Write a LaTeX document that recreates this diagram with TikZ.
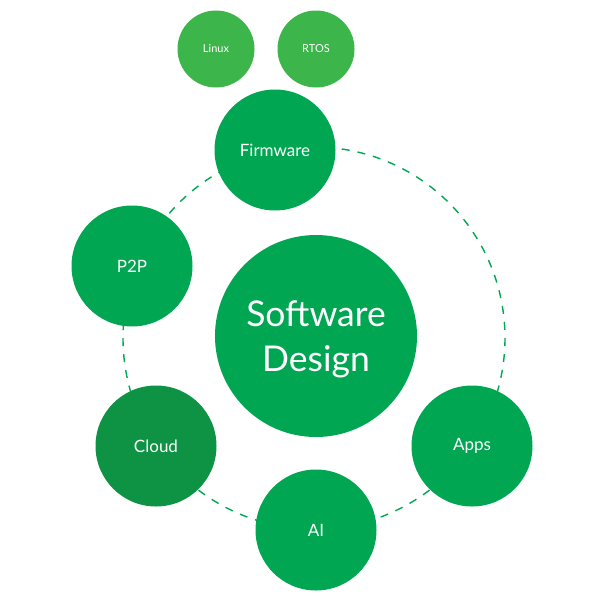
\documentclass[tikz,border=0pt]{standalone}
\usepackage{fontspec}
\setmainfont{Lato}
\definecolor{sdgreen}{RGB}{0,166,81}
\definecolor{sddark}{RGB}{14,147,69}
\definecolor{sdlight}{RGB}{60,181,74}

\begin{document}
\begin{tikzpicture}[x=1pt,y=-1pt]
    \tikzstyle{bubble}=[circle,fill=sdgreen,text=white,inner sep=0pt]
    \tikzstyle{core bubble}=[bubble,minimum size=202pt,align=center,text depth=0pt,font=\fontsize{35.5}{45}\selectfont]
    \tikzstyle{ring bubble}=[bubble,minimum size=121pt,font=\fontsize{17}{19}\selectfont]
    \tikzstyle{os bubble}=[bubble,fill=sdlight,minimum size=77pt,font=\fontsize{11}{13}\selectfont]
    \tikzstyle{ring}=[draw=sdgreen,line width=1.4pt,dash pattern=on 8pt off 8pt]

    \useasboundingbox (0,0) rectangle (600,600);

    % dashed orbit behind the bubbles
    \coordinate (M) at (314,338);
    \draw[ring] (M) circle (191);

    % centre
    \node[core bubble] (C-0) at (316,336) {Software\\Design};

    % bubbles on the orbit
    \node[ring bubble] (R-1) at (275,150) {Firmware};
    \node[ring bubble] (R-2) at (132,266) {P2P};
    \node[ring bubble,fill=sddark] (R-3) at (156,446) {Cloud};
    \node[ring bubble] (R-4) at (316,530) {AI};
    \node[ring bubble] (R-5) at (472,446) {Apps};

    % operating systems on top
    \node[os bubble] (T-1) at (216,49) {Linux};
    \node[os bubble] (T-2) at (316,49) {RTOS};
\end{tikzpicture}
\end{document}
